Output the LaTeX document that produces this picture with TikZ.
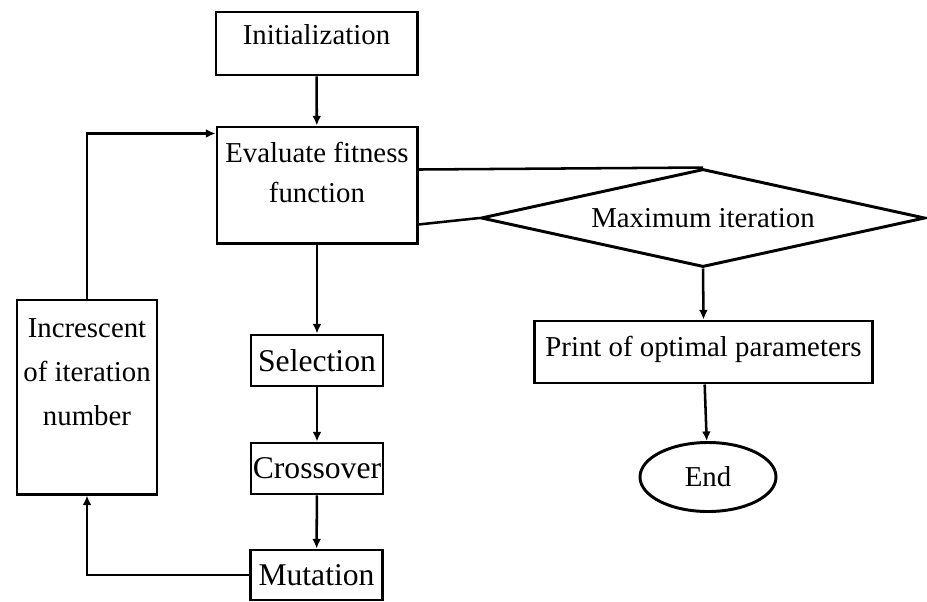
\documentclass[tikz,border=0pt]{standalone}
\usepackage{fontspec}
\setmainfont{Liberation Serif}
\usepackage{tikz}
\usetikzlibrary{arrows.meta,positioning,calc,shapes.geometric}

\begin{document}
\begin{tikzpicture}[x=0.025cm, y=-0.025cm,
  box/.style={draw, line width=2.1pt, inner sep=1pt, align=center,
              font=\fontsize{20.5}{28.5}\selectfont},
  stepbox/.style={box, minimum width=3.3cm, minimum height=1.275cm,
              font=\fontsize{22.5}{27}\selectfont},
  arr/.style={-{Latex[length=2.4mm,width=2.2mm]}, line width=1.8pt},
  ln/.style={line width=1.8pt}]
\useasboundingbox (0,0) rectangle (927,601);
\node[box, minimum width=5.025cm, minimum height=1.575cm,
  text height=14pt, text depth=13pt] (init) at (316.5,43.5) {Initialization};
\node[box, minimum width=5cm, minimum height=2.9cm,
  text depth=18.5pt] (eval) at (317,185) {Evaluate fitness\\function};
\node[stepbox] (sel) at (317,360.5) {Selection};
\node[stepbox] (cross) at (317,468.5) {Crossover};
\node[stepbox, minimum height=1.25cm] (mut) at (316.5,575) {Mutation};
\node[box, minimum width=3.5cm, minimum height=4.85cm,
  font=\fontsize{20.5}{31}\selectfont,
  text depth=35.5pt] (inc) at (87,397) {Increscent\\of iteration\\number};
\node[box, diamond, aspect=4.5, inner sep=0pt, minimum width=11.1cm,
  minimum height=2.45cm] (dia) at (703,218) {Maximum iteration};
\node[box, minimum width=8.425cm, minimum height=1.55cm,
  text height=14pt, text depth=7pt] (print) at (703.5,352) {Print of optimal parameters};
\node[box, ellipse, minimum width=3.4cm, minimum height=1.725cm] (end) at (708,477) {End};
\draw[arr] (init) -- (eval);
\draw[arr] (eval) -- (sel);
\draw[arr] (sel) -- (cross);
\draw[arr] (cross) -- (mut);
\draw[arr] (mut.west) -| (inc.south);
\draw[arr] (inc.north) |- ($(eval.north west)+(0,8)$);
\draw[ln] ($(eval.north east)+(0,44)$) -- (dia.north);
\draw[ln] ($(eval.south east)+(0,-20)$) -- (dia.west);
\draw[arr] (dia.south) -- (print.north);
\draw[arr] (print) -- (end);
\end{tikzpicture}
\end{document}
